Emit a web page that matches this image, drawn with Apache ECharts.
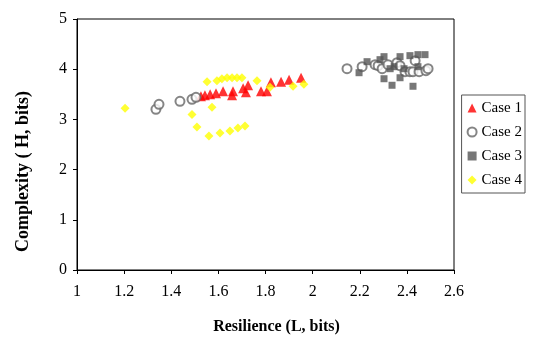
<!DOCTYPE html>
<html>
<head>
<meta charset="utf-8">
<script src="https://cdn.jsdelivr.net/npm/echarts@6/dist/echarts.min.js"></script>
<style>
  html, body { margin: 0; padding: 0; background: #fff; }
  #chart { width: 533px; height: 340px; }
</style>
</head>
<body>
<div id="chart"></div>
<script>
// valores: [L, H]
const caso1 = [
  [1.526, 3.46], [1.543, 3.48], [1.565, 3.50], [1.590, 3.52], [1.620, 3.56],
  [1.658, 3.48], [1.662, 3.56], [1.705, 3.62], [1.717, 3.54], [1.726, 3.68],
  [1.781, 3.56], [1.806, 3.56], [1.823, 3.74], [1.866, 3.75], [1.900, 3.79],
  [1.951, 3.83]
];

const caso2 = [
  [1.335, 3.20], [1.348, 3.30], [1.437, 3.36], [1.488, 3.40], [1.505, 3.44],
  [2.146, 4.01], [2.210, 4.05], [2.265, 4.09], [2.278, 4.07], [2.295, 4.01],
  [2.320, 4.09], [2.358, 4.13], [2.371, 4.07], [2.392, 3.95], [2.413, 3.95],
  [2.426, 3.95], [2.435, 4.17], [2.452, 3.95], [2.481, 3.97], [2.490, 4.01]
];

const caso3 = [
  [2.197, 3.93], [2.231, 4.15], [2.286, 4.19], [2.303, 4.25], [2.329, 4.01],
  [2.346, 4.05], [2.371, 4.25], [2.303, 3.81], [2.337, 3.68], [2.371, 3.83],
  [2.388, 4.01], [2.413, 4.27], [2.447, 4.29], [2.477, 4.29], [2.447, 4.05],
  [2.426, 3.66]
];

const caso4 = [
  [1.204, 3.22], [1.488, 3.10], [1.509, 2.85], [1.552, 3.75], [1.573, 3.24],
  [1.560, 2.67], [1.607, 2.73], [1.649, 2.77], [1.683, 2.83], [1.713, 2.87],
  [1.594, 3.77], [1.615, 3.81], [1.637, 3.83], [1.658, 3.83], [1.679, 3.83],
  [1.700, 3.83], [1.764, 3.77], [1.819, 3.64], [1.917, 3.66], [1.963, 3.70]
];

const nomes = ['Case 1', 'Case 2', 'Case 3', 'Case 4'];

const fonte = '"Liberation Serif", "Times New Roman", serif';

function serie(nome, dados, simbolo, tamanho, cor) {
  return {
    name: nome,
    type: 'scatter',
    data: dados,
    symbol: simbolo,
    symbolSize: tamanho,
    itemStyle: { color: cor, borderWidth: simbolo == 'emptyCircle' ? 1 : 0 }
  };
}

const option = {
  animation: false,
  backgroundColor: '#fff',
  textStyle: { fontFamily: fonte, color: '#000' },
  grid: {
    left: 77, right: 79, top: 19, bottom: 68,
    show: true, borderColor: '#000', borderWidth: 1
  },
  legend: {
    data: nomes,
    orient: 'vertical',
    right: 8,
    top: 95,
    padding: [5, 3, 5, 5],
    borderColor: '#555',
    borderWidth: 1,
    itemWidth: 9,
    itemHeight: 9,
    itemGap: 8,
    textStyle: { fontFamily: fonte, fontSize: 15, color: '#000', lineHeight: 16 }
  },
  xAxis: {
    type: 'value',
    min: 1, max: 2.6, interval: 0.2,
    name: 'Resilience (L, bits)',
    nameLocation: 'middle',
    nameGap: 49,
    nameTextStyle: {
      fontFamily: fonte, fontSize: 16, fontWeight: 'bold', color: '#000',
      padding: [0, 0, 0, 22]
    },
    axisLine: { lineStyle: { color: '#000' } },
    axisTick: { show: true, length: 4, lineStyle: { color: '#000' } },
    axisLabel: { fontFamily: fonte, fontSize: 16, color: '#000', margin: 14 },
    splitLine: { show: false }
  },
  yAxis: {
    type: 'value',
    min: 0, max: 5, interval: 1,
    name: 'Complexity ( H, bits)',
    nameLocation: 'middle',
    nameGap: 45,
    nameTextStyle: {
      fontFamily: fonte, fontSize: 18, fontWeight: 'bold', color: '#000',
      padding: [0, 54, 0, 0]
    },
    axisLine: { show: true, lineStyle: { color: '#000' } },
    axisTick: { show: true, length: 4, lineStyle: { color: '#000' } },
    axisLabel: { fontFamily: fonte, fontSize: 16, color: '#000', margin: 10 },
    splitLine: { show: false }
  },
  series: [
    serie('Case 1', caso1, 'triangle', 10, '#ff0000'),
    serie('Case 2', caso2, 'emptyCircle', 9, '#666666'),
    serie('Case 3', caso3, 'rect', 7, '#555555'),
    serie('Case 4', caso4, 'diamond', 9, '#ffff00')
  ]
};

const chart = echarts.init(document.getElementById('chart'));
chart.setOption(option);
</script>
</body>
</html>
